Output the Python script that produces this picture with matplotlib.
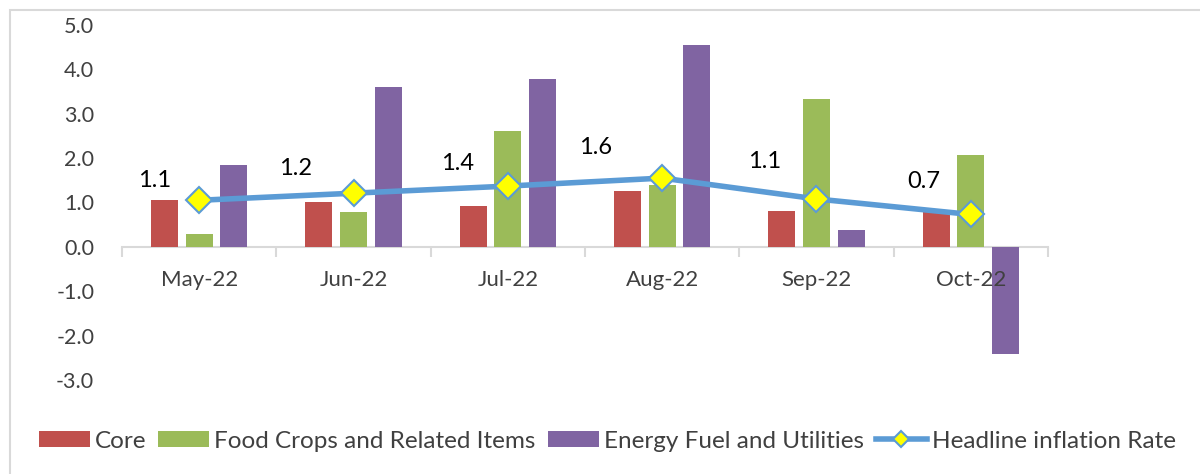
import numpy as np
import matplotlib.pyplot as plt
from matplotlib.patches import Rectangle

# data
months = ['May-22', 'Jun-22', 'Jul-22', 'Aug-22', 'Sep-22', 'Oct-22']
core = [1.06, 1.02, 0.91, 1.26, 0.80, 0.79]
food = [0.28, 0.78, 2.61, 1.39, 3.33, 2.07]
energy = [1.85, 3.60, 3.79, 4.56, 0.39, -2.41]
headline = [1.05, 1.21, 1.37, 1.55, 1.08, 0.73]
headline_lbl = ['1.1', '1.2', '1.4', '1.6', '1.1', '0.7']

plt.rcParams['font.family'] = ['Lato', 'DejaVu Sans']
txt = '#404040'

fig = plt.figure(figsize=(12, 4.74), dpi=100)
ax = fig.add_axes([122/1200, 1-380/474, (1048-122)/1200, (380-25)/474])

x = np.arange(len(months))
w = 0.175
off = 0.224
b1 = ax.bar(x - off, core, w, color='#C0504D', label='Core', zorder=2)
b2 = ax.bar(x, food, w, color='#9BBB59', label='Food Crops and Related Items', zorder=2)
b3 = ax.bar(x + off, energy, w, color='#8064A2', label='Energy Fuel and Utilities', zorder=2)
ln, = ax.plot(x, headline, color='#5B9BD5', lw=4, marker='D', ms=13,
              mfc='#FFFF00', mec='#5B9BD5', mew=1.5, label='Headline inflation Rate', zorder=3)

# data labels sit up and to the left of each marker
dx = [-45, -58, -50, -67, -52, -47]
dy = [20, 25, 23, 31, 37, 33]
for i in range(len(months)):
    ax.annotate(headline_lbl[i], (x[i], headline[i]), xytext=(dx[i], dy[i]),
                textcoords='offset pixels', ha='center', va='center',
                fontsize=17, color='black', zorder=4)

ax.set_xlim(-0.5, len(months) - 0.5)
ax.set_ylim(-3, 5)
ax.set_yticks(np.arange(-3, 6, 1))
ax.set_yticklabels(['%.1f' % v for v in np.arange(-3, 6, 1)])
ax.tick_params(axis='y', length=0, pad=20, labelsize=15.5, labelcolor=txt)

# category axis crosses at zero, ticks between categories
ax.spines['bottom'].set_position(('data', 0))
ax.spines['bottom'].set_color('#d9d9d9')
ax.spines['bottom'].set_linewidth(1.5)
ax.spines['bottom'].set_zorder(1)
ax.set_xticks(np.arange(-0.5, len(months), 1))
ax.set_xticklabels([])
ax.set_xticks(x, minor=True)
ax.set_xticklabels(months, minor=True)
ax.tick_params(axis='x', which='major', length=7, width=1.5, color='#d9d9d9', direction='out')
ax.tick_params(axis='x', which='minor', length=0, pad=17, labelsize=16, labelcolor=txt)
ax.xaxis.set_zorder(4)

for s in ['top', 'right', 'left']:
    ax.spines[s].set_visible(False)

fig.legend([b1, b2, b3, ln], [b1.get_label(), b2.get_label(), b3.get_label(), ln.get_label()],
           loc='center', bbox_to_anchor=(0.506, 1-441/474), ncol=4, frameon=False,
           fontsize=17.5, labelcolor=txt, handlelength=2.1, handleheight=0.6,
           handletextpad=0.2, columnspacing=0.5, markerscale=0.65)

# outer chart border (runs off the right and bottom of the image)
fig.patches.append(Rectangle((10/1200, -0.1), 1.2, 1.1 - 10/474, transform=fig.transFigure,
                             fill=False, ec='#d9d9d9', lw=1.5))

fig.savefig('out.png', dpi=100)
